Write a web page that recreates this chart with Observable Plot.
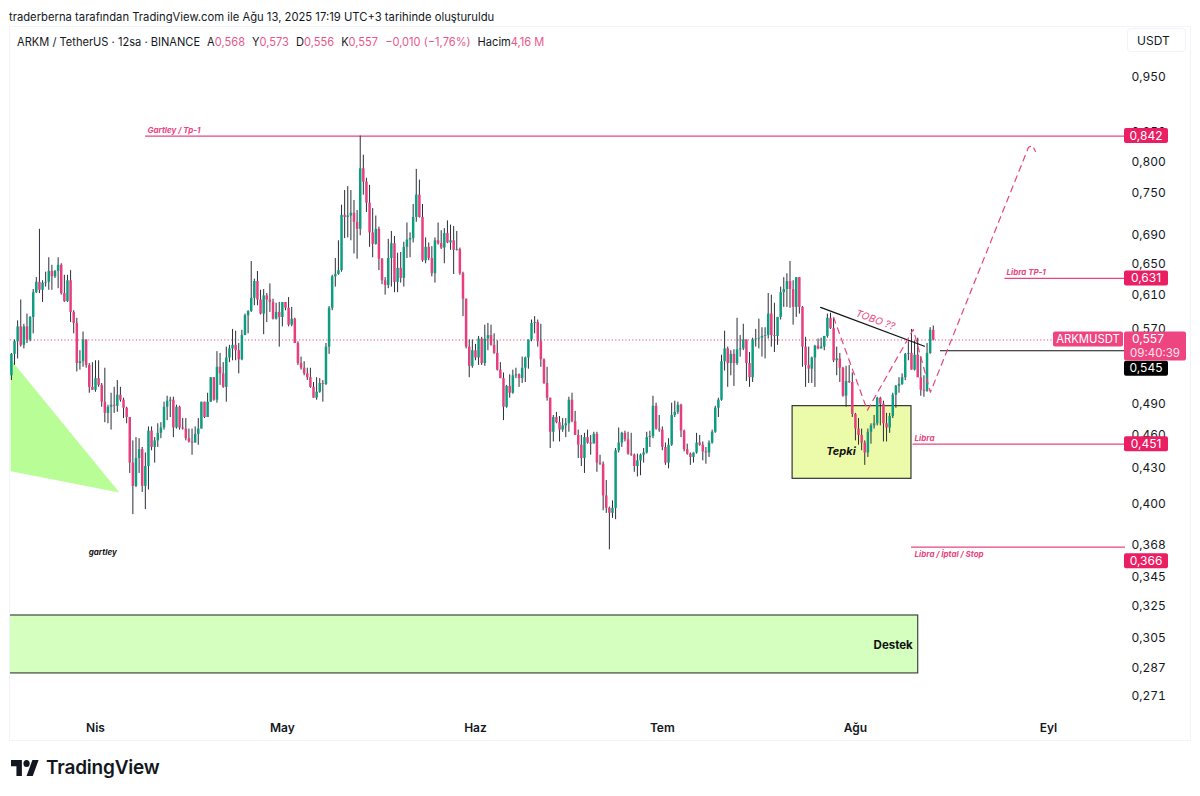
<!DOCTYPE html>
<html>
<head>
<meta charset="utf-8">
<script src="https://cdn.jsdelivr.net/npm/d3@7"></script>
<script src="https://cdn.jsdelivr.net/npm/@observablehq/plot@0.6"></script>
<style>
  body { margin: 0; background: #fff; font-family: Inter, Roboto, sans-serif; color: #131722; }
  #page { position: relative; width: 1200px; height: 796px; overflow: hidden; }
  #title { position: absolute; left: 9px; top: 10px; font-size: 11.25px; white-space: nowrap; }
  #pane { position: absolute; left: 9px; top: 26px; width: 1180px; height: 713px; border: 1px solid #f0f3fa; }
  #vis { position: absolute; left: 0; top: 26px; }
  #legend { position: absolute; left: 17px; top: 35px; font-size: 11.1px; white-space: nowrap; display: flex; gap: 7px; }
  #legend b { font-weight: 400; color: #e9568a; }
  #currency { position: absolute; left: 1127px; top: 28px; width: 59px; height: 24px; box-sizing: border-box; border: 1px solid #f0f3fa; border-radius: 4px; font-size: 12px; line-height: 24px; padding-left: 9px; }
  #logo { position: absolute; left: 11px; top: 756px; display: flex; align-items: center; gap: 7px; font-size: 19px; font-weight: 600; letter-spacing: -0.2px; }
</style>
</head>
<body>
<div id="page">
  <div id="pane"></div>
  <div id="vis"></div>
  <div id="title">traderberna tarafından TradingView.com ile Ağu 13, 2025 17:19 UTC+3 tarihinde oluşturuldu</div>
  <div id="legend"><span>ARKM / TetherUS · 12sa · BINANCE</span><span>A<b>0,568</b></span><span>Y<b>0,573</b></span><span>D<b>0,556</b></span><span>K<b>0,557</b></span><span><b>−0,010 (−1,76%)</b></span><span>Hacim<b>4,16 M</b></span></div>
  <div id="currency">USDT</div>
  <div id="logo">
    <svg width="28" height="16" viewBox="0 4 36 18" preserveAspectRatio="none"><path fill="#131722" d="M14 22H7V11H0V4h14v18zM28 22h-8l7.5-18h8L28 22z"/><circle fill="#131722" cx="20" cy="8" r="4"/></svg>
    <span>TradingView</span>
  </div>
</div>
<script>
// 12h candles, first one opens 18 Mar 12:00 UTC
const firstOpen = 0.518
const firstCandle = Date.UTC(2025, 2, 18, 12)
const closes = [
  .541,.555,.572,.551,.572,.557,.583,.613,.626,.616,
  .625,.626,.640,.633,.640,.648,.612,.602,.628,.589,
  .576,.531,.533,.557,.529,.506,.503,.515,.508,.491,
  .480,.486,.488,.487,.498,.493,.485,.476,.434,.414,
  .438,.446,.414,.431,.463,.448,.454,.461,.466,.486,
  .492,.493,.466,.486,.466,.465,.456,.453,.452,.460,
  .465,.491,.476,.491,.516,.493,.527,.520,.506,.537,
  .547,.551,.545,.535,.562,.585,.590,.606,.627,.604,
  .587,.609,.604,.601,.581,.589,.583,.601,.594,.574,
  .581,.553,.531,.526,.520,.516,.506,.495,.501,.510,
  .509,.549,.594,.633,.636,.641,.717,.714,.716,.720,
  .707,.697,.788,.767,.735,.692,.676,.697,.656,.628,
  .622,.657,.677,.626,.644,.631,.672,.682,.684,.714,
  .747,.714,.654,.672,.657,.637,.681,.677,.671,.691,
  .678,.681,.668,.669,.637,.605,.549,.528,.545,.537,
  .558,.531,.558,.562,.551,.542,.524,.515,.486,.507,
  .500,.518,.519,.515,.526,.537,.557,.576,.577,.555,
  .535,.510,.495,.462,.476,.471,.464,.468,.470,.493,
  .472,.459,.450,.438,.457,.452,.451,.460,.434,.433,
  .406,.396,.392,.396,.445,.452,.461,.455,.442,.441,
  .431,.436,.441,.443,.457,.458,.487,.465,.464,.448,
  .434,.450,.478,.481,.488,.463,.446,.442,.439,.443,
  .452,.450,.444,.443,.452,.462,.485,.493,.533,.547,
  .531,.541,.531,.546,.547,.557,.531,.516,.557,.558,
  .559,.561,.562,.587,.562,.561,.583,.613,.617,.627,
  .617,.595,.632,.595,.549,.529,.525,.537,.550,.547,
  .549,.561,.582,.570,.534,.536,.526,.497,.512,.511,
  .479,.465,.459,.452,.443,.462,.468,.470,.495,.489,
  .470,.466,.477,.498,.507,.509,.516,.541,.542,.524,
  .540,.516,.503,.502,.542,.568,.557
]
const highs = [
  .542,.557,.579,.604,.575,.587,.584,.617,.632,.697,
  .628,.639,.658,.648,.641,.658,.650,.635,.635,.641,
  .591,.582,.545,.566,.557,.531,.532,.534,.534,.510,
  .526,.488,.500,.506,.513,.506,.495,.486,.476,.454,
  .457,.456,.448,.443,.467,.467,.457,.470,.471,.491,
  .497,.496,.496,.488,.487,.475,.475,.465,.465,.467,
  .475,.491,.491,.500,.516,.516,.544,.542,.532,.549,
  .551,.569,.567,.553,.568,.587,.591,.653,.630,.640,
  .616,.617,.612,.624,.605,.600,.601,.601,.601,.607,
  .595,.582,.555,.538,.533,.526,.526,.511,.516,.515,
  .513,.553,.596,.635,.657,.681,.732,.754,.760,.754,
  .739,.724,.842,.810,.773,.762,.727,.716,.700,.657,
  .632,.683,.694,.687,.664,.665,.679,.706,.692,.733,
  .787,.770,.733,.685,.678,.673,.685,.706,.695,.698,
  .709,.703,.701,.694,.671,.639,.605,.557,.557,.552,
  .561,.560,.574,.576,.574,.564,.556,.532,.521,.508,
  .519,.524,.526,.520,.538,.538,.557,.580,.584,.580,
  .575,.536,.527,.495,.478,.481,.477,.475,.475,.496,
  .500,.482,.464,.459,.461,.464,.459,.462,.462,.441,
  .435,.419,.397,.402,.447,.466,.462,.463,.462,.461,
  .442,.442,.442,.447,.462,.463,.497,.490,.478,.467,
  .452,.456,.490,.492,.491,.489,.464,.451,.443,.443,
  .461,.459,.453,.448,.454,.464,.487,.495,.540,.567,
  .549,.545,.546,.582,.562,.575,.557,.543,.559,.569,
  .581,.571,.571,.612,.610,.600,.583,.620,.632,.637,
  .653,.628,.632,.632,.596,.560,.549,.538,.551,.558,
  .559,.561,.587,.588,.582,.549,.542,.527,.528,.529,
  .521,.480,.475,.465,.454,.465,.470,.478,.496,.496,
  .492,.480,.480,.500,.508,.516,.520,.542,.555,.569,
  .556,.559,.538,.518,.553,.571,.573
]
const lows = [
  .513,.529,.536,.549,.547,.553,.555,.564,.612,.612,
  .601,.620,.616,.616,.631,.618,.610,.601,.601,.577,
  .564,.522,.524,.527,.526,.500,.503,.501,.506,.486,
  .471,.470,.464,.480,.481,.491,.475,.470,.425,.391,
  .413,.425,.409,.395,.411,.445,.434,.448,.456,.464,
  .473,.476,.457,.465,.464,.464,.454,.452,.441,.452,
  .450,.465,.475,.476,.491,.492,.490,.508,.505,.491,
  .532,.534,.534,.520,.534,.562,.564,.589,.597,.597,
  .586,.563,.577,.589,.580,.580,.549,.572,.591,.572,
  .572,.553,.529,.524,.518,.513,.505,.495,.493,.500,
  .491,.508,.541,.591,.620,.635,.639,.684,.685,.681,
  .663,.656,.688,.747,.721,.672,.658,.675,.641,.623,
  .610,.618,.620,.613,.613,.625,.620,.657,.658,.678,
  .707,.713,.652,.650,.654,.633,.625,.675,.669,.650,
  .677,.668,.636,.667,.635,.584,.547,.516,.526,.534,
  .529,.529,.528,.545,.550,.541,.523,.515,.473,.485,
  .495,.499,.515,.506,.510,.511,.525,.555,.564,.549,
  .527,.509,.492,.447,.453,.470,.453,.462,.457,.462,
  .471,.459,.438,.431,.425,.451,.441,.452,.426,.432,
  .394,.392,.364,.388,.387,.443,.448,.453,.441,.440,
  .426,.422,.423,.434,.442,.448,.456,.464,.462,.445,
  .432,.429,.449,.476,.479,.457,.444,.441,.432,.434,
  .442,.449,.436,.433,.439,.451,.461,.476,.492,.523,
  .506,.518,.507,.529,.538,.545,.512,.506,.511,.549,
  .547,.538,.536,.558,.549,.543,.551,.580,.595,.595,
  .594,.574,.583,.587,.527,.506,.510,.510,.506,.546,
  .547,.545,.559,.569,.532,.518,.511,.496,.486,.510,
  .476,.454,.450,.445,.432,.439,.451,.465,.468,.468,
  .453,.453,.461,.475,.485,.500,.508,.513,.534,.524,
  .523,.516,.497,.496,.501,.541,.556
]

const monthTicks = ["2025-04-01", "2025-05-01", "2025-06-01", "2025-07-01", "2025-08-01", "2025-09-01"]
const monthNames = ["Nis", "May", "Haz", "Tem", "Ağu", "Eyl"]
const priceTicks = [.95, .85, .8, .75, .69, .65, .61, .57, .49, .46, .43, .4, .368, .345, .325, .305, .287, .271]

// horizontal levels
const levelPrices = [.842, .631, .451, .366]
const levelStarts = ["2025-04-09T01:00Z", "2025-08-25T00:00Z", "2025-08-10T06:00Z", "2025-08-10T00:00Z"]
const lastPrice = .557
const blackLevel = .545
const blackLevelStart = "2025-08-14T16:00Z"
const paneEnd = "2025-09-20"

// drawings
const wedgeDates = ["2025-03-18T09:00Z", "2025-04-04T20:00Z", "2025-03-18T09:00Z"]
const wedgePrices = [.5355, .409, .4268]
const supportBox = { x1: "2025-03-01", x2: "2025-08-11T02:00Z", y1: .2834, y2: .3187 }
const tepkiBox = { x1: "2025-07-21T22:00Z", x2: "2025-08-10T00:00Z", y1: .4204, y2: .4871 }
const trendDates = ["2025-07-26T10:00Z", "2025-08-12T02:00Z"]
const trendPrices = [.595, .550]
const pathDates = ["2025-07-28T12:00Z", "2025-08-02T22:00Z", "2025-08-10T07:00Z", "2025-08-13T01:00Z", "2025-08-28T19:00Z", "2025-08-29T10:00Z", "2025-08-29T22:00Z"]
const pathPrices = [.583, .483, .569, .501, .823, .826, .816]

const noteTexts = ["Gartley / Tp-1", "Libra TP-1", "Libra", "Libra / İptal / Stop"]
const noteDates = ["2025-04-09T08:00Z", "2025-08-25T06:00Z", "2025-08-10T12:00Z", "2025-08-10T12:00Z"]
const notePrices = [.852, .639, .456, .361]

const up = "#0f9d82"
const down = "#e83e7e"
const pink = "#e8447e"
const badgeRed = "#e91e63"

const candles = closes.map((close, i) => ({
  date: new Date(firstCandle + i * 12 * 3600e3),
  open: i ? closes[i - 1] : firstOpen,
  close,
  high: highs[i],
  low: lows[i],
}))
const toDate = s => new Date(s)
const comma = v => v.toFixed(3).replace(".", ",")

// price labels on the right, they sit in the axis column so no Plot.text
const badgeLabels = [.842, .631, .451, .366, .545]
const badgeFills = [badgeRed, badgeRed, badgeRed, badgeRed, "#000"]
const badgeNudge = [0, 0, 0, 14, 18] // collision shift as TradingView does it
function badges(index, { y }) {
  const g = d3.create("svg:g").attr("text-anchor", "middle").attr("font-size", 12)
  badgeLabels.forEach((v, i) => {
    const cy = y(v) + badgeNudge[i]
    g.append("rect").attr("x", 1124).attr("y", cy - 7.5).attr("width", 44).attr("height", 15).attr("rx", 2).attr("fill", badgeFills[i])
    g.append("text").attr("x", 1146).attr("y", cy).attr("dy", "0.35em").attr("fill", "#fff").text(comma(v))
  })
  const py = y(lastPrice)
  g.append("rect").attr("x", 1053).attr("y", py - 8).attr("width", 70).attr("height", 15).attr("rx", 2).attr("fill", "#ee4580")
  g.append("text").attr("x", 1088).attr("y", py).attr("dy", "0.3em").attr("fill", "#fff").attr("font-size", 11.3).text("ARKMUSDT")
  g.append("rect").attr("x", 1124).attr("y", py - 8).attr("width", 62).attr("height", 29).attr("rx", 2).attr("fill", "#ee4580")
  g.append("text").attr("x", 1132).attr("y", py).attr("dy", "0.3em").attr("text-anchor", "start").attr("fill", "#fff").text(comma(lastPrice))
  g.append("text").attr("x", 1155).attr("y", py + 14).attr("dy", "0.3em").attr("fill", "#ffe3ec").attr("font-size", 11.5).text("09:40:39")
  return g.node()
}

const plot = Plot.plot({
  width: 1200,
  height: 714,
  marginLeft: 10,
  marginRight: 75,
  marginTop: 0,
  marginBottom: 26,
  style: { fontFamily: "Inter, Roboto, sans-serif", fontSize: "12px", color: "#131722", background: "transparent" },
  x: { type: "utc", domain: [new Date("2025-04-01"), new Date("2025-09-01")], range: [95, 1048], label: null },
  y: { type: "log", domain: [.271, .95], range: [669, 50], label: null },
  color: { domain: ["up", "down"], range: [up, down] },
  marks: [
    Plot.line(wedgeDates.map((d, i) => ({ d: toDate(d), p: wedgePrices[i] })), {
      x: "d", y: "p", fill: "#b9fd97", stroke: "none", clip: "frame",
    }),
    Plot.rect([supportBox], {
      x1: d => toDate(d.x1), x2: d => toDate(d.x2), y1: "y1", y2: "y2",
      fill: "#d4ffbe", stroke: "#3c4a3c", strokeWidth: 1.2, clip: "frame",
    }),
    Plot.rect([tepkiBox], {
      x1: d => toDate(d.x1), x2: d => toDate(d.x2), y1: "y1", y2: "y2",
      fill: "#ecfba9", stroke: "#333", strokeWidth: 1.2,
    }),
    // last price, dotted
    Plot.ruleY([lastPrice], { stroke: pink, strokeWidth: 1, strokeDasharray: "1.2,2.2" }),
    Plot.ruleY(levelPrices, {
      y: d => d, x1: (d, i) => toDate(levelStarts[i]), x2: () => toDate(paneEnd),
      stroke: pink, strokeWidth: 1.3, clip: "frame",
    }),
    Plot.ruleY([blackLevel], {
      x1: () => toDate(blackLevelStart), x2: () => toDate(paneEnd), stroke: "#111", strokeWidth: 1.1, clip: "frame",
    }),
    // candles
    Plot.ruleX(candles, { x: "date", y1: "low", y2: "high", stroke: "#2a2e39", strokeWidth: 1 }),
    Plot.ruleX(candles, {
      x: "date", y1: "open", y2: "close",
      stroke: d => (d.close >= d.open ? "up" : "down"), strokeWidth: 2.5,
    }),
    Plot.line(trendDates.map((d, i) => ({ d: toDate(d), p: trendPrices[i] })), {
      x: "d", y: "p", stroke: "#111", strokeWidth: 1.2,
    }),
    Plot.line(pathDates.map((d, i) => ({ d: toDate(d), p: pathPrices[i] })), {
      x: "d", y: "p", stroke: pink, strokeWidth: 1.2, strokeDasharray: "6,5",
    }),
    Plot.text(noteTexts, {
      text: d => d, x: (d, i) => toDate(noteDates[i]), y: (d, i) => notePrices[i],
      textAnchor: "start", fill: pink, fontSize: 8, fontWeight: 700, fontStyle: "italic",
    }),
    Plot.text(["gartley"], {
      x: () => toDate("2025-03-30T22:00Z"), y: () => .3625, textAnchor: "start",
      fill: "#111", fontSize: 8, fontWeight: 700, fontStyle: "italic",
    }),
    Plot.text(["Tepki"], {
      x: () => toDate("2025-07-27T08:00Z"), y: () => .444, textAnchor: "start",
      fill: "#111", fontSize: 11, fontWeight: 700, fontStyle: "italic",
    }),
    Plot.text(["Destek"], {
      x: () => toDate("2025-08-03T22:00Z"), y: () => .2999, textAnchor: "start",
      fill: "#111", fontSize: 11.5, fontWeight: 700,
    }),
    Plot.text(["TOBO ??"], {
      x: () => toDate("2025-08-04T05:00Z"), y: () => .58, rotate: 20,
      fill: pink, fontSize: 10, fontStyle: "italic",
    }),
    Plot.axisX({
      anchor: "bottom", ticks: monthTicks.map(toDate), tickSize: 0, tickPadding: 9, fontWeight: 600,
      tickFormat: d => monthNames[monthTicks.findIndex(m => +toDate(m) === +d)], label: null,
    }),
    Plot.axisY({ anchor: "right", ticks: priceTicks, tickSize: 0, tickPadding: 6, dy: 0.5, tickFormat: comma, label: null }),
    badges,
  ],
})
document.querySelector("#vis").append(plot)
</script>
</body>
</html>
